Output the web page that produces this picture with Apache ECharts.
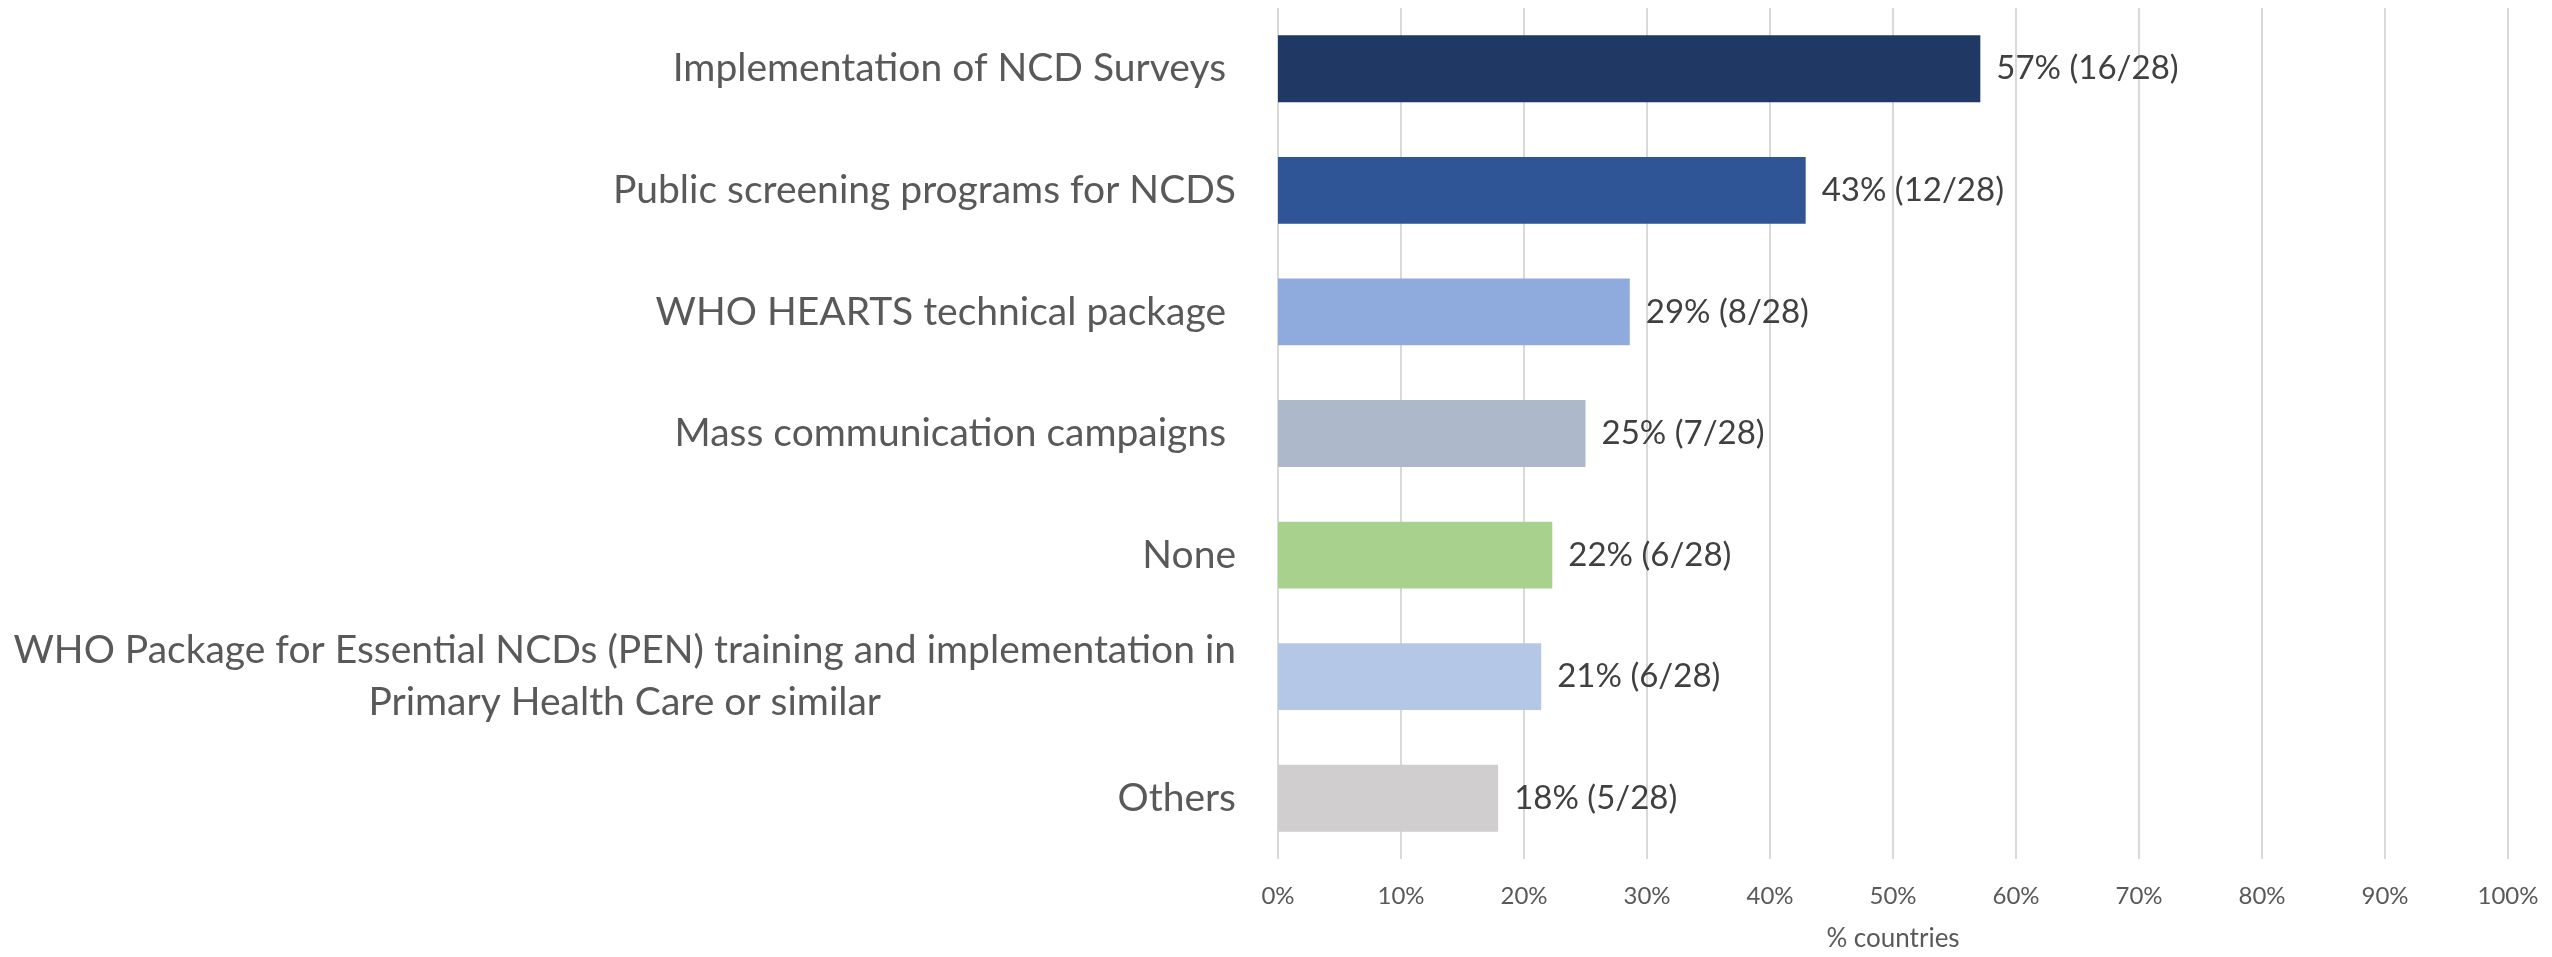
<!DOCTYPE html>
<html>
<head>
    <meta charset="utf-8">
    <script src="https://cdn.jsdelivr.net/npm/echarts@6/dist/echarts.min.js"></script>
    <style>
        html, body { margin: 0; padding: 0; background: #fff; }
        #main { width: 2552px; height: 957px; }
    </style>
</head>
<body>
<div id="main"></div>
<script>
    // data
    var categories = [
        'Implementation of NCD Surveys ',
        'Public screening programs for NCDS',
        'WHO HEARTS technical package ',
        'Mass communication campaigns ',
        'None',
        'WHO Package for Essential NCDs (PEN) training and implementation in\nPrimary Health Care or similar',
        'Others'
    ];
    var shares = [57.1, 42.9, 28.6, 25.0, 22.3, 21.4, 17.9];
    var labelTexts = ['57% (16/28)', '43% (12/28)', '29% (8/28)', '25% (7/28)', '22% (6/28)', '21% (6/28)', '18% (5/28)'];
    var barColors = ['#203864', '#2f5597', '#8faadc', '#adb9ca', '#a9d18e', '#b4c7e7', '#d0cece'];
    var xTicks = [0, 10, 20, 30, 40, 50, 60, 70, 80, 90, 100];

    var font = 'Lato, "Open Sans", sans-serif';

    var chart = echarts.init(document.getElementById('main'));
    chart.setOption({
        animation: false,
        grid: { left: 1278, right: 44, top: 8, bottom: 95 },
        xAxis: {
            type: 'value',
            min: xTicks[0],
            max: xTicks[xTicks.length - 1],
            interval: 10,
            name: '% countries',
            nameLocation: 'middle',
            nameGap: 67,
            nameTextStyle: { color: '#595959', fontSize: 26, fontFamily: font },
            axisLine: { show: false },
            axisTick: { show: false },
            axisLabel: {
                color: '#595959', fontSize: 24, fontFamily: font, margin: 25,
                formatter: function (v) { return v + '%'; }
            },
            splitLine: { show: true, lineStyle: { color: '#d9d9d9', width: 2 } }
        },
        yAxis: {
            type: 'category',
            inverse: true,
            data: categories,
            axisLine: { show: false },
            axisTick: { show: false },
            axisLabel: {
                margin: 42,
                formatter: function (v) { return '{c|' + v.split('\n').join('}\n{c|') + '}'; },
                rich: {
                    c: { color: '#595959', fontSize: 39, fontFamily: font, align: 'center', lineHeight: 52 }
                }
            }
        },
        series: [{
            type: 'bar',
            barCategoryGap: '45%',
            data: shares.map(function (v, i) {
                return { value: v, itemStyle: { color: barColors[i] } };
            }),
            label: {
                show: true,
                position: 'right',
                distance: 16,
                color: '#404040',
                fontSize: 33,
                fontFamily: font,
                formatter: function (p) { return labelTexts[p.dataIndex]; }
            }
        }]
    });
</script>
</body>
</html>
